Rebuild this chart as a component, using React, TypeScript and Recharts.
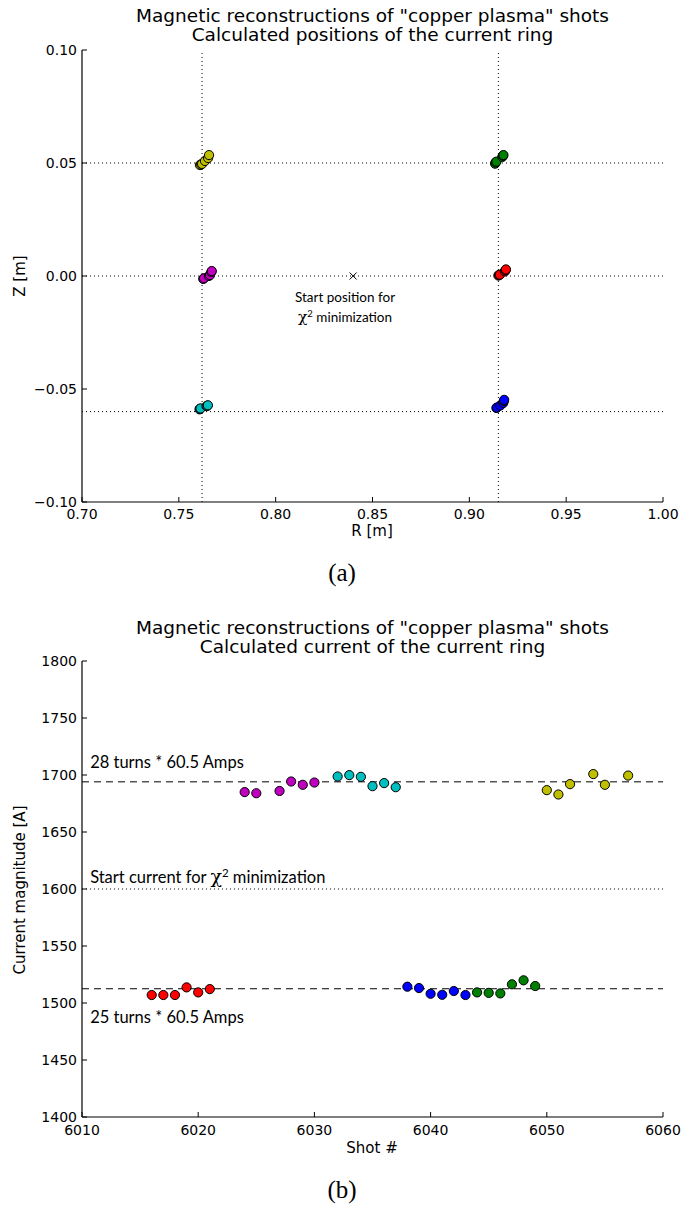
import React from 'react';
import { ScatterChart, Scatter, XAxis, YAxis, ReferenceLine } from 'recharts';

// ---------- Chart (a): positions ----------
const rTicks = [0.7, 0.75, 0.8, 0.85, 0.9, 0.95, 1.0];
const zTicks = [-0.1, -0.05, 0.0, 0.05, 0.1];
const rGuides = [0.762, 0.915];
const zGuides = [0.05, 0.0, -0.06];

const posYellow = [[0.7609, 0.0491], [0.7615, 0.0494], [0.762, 0.0496], [0.7635, 0.0509], [0.7651, 0.0522], [0.7656, 0.0535]];
const posGreen = [[0.9133, 0.0497], [0.9136, 0.0503], [0.914, 0.0506], [0.917, 0.0527], [0.9174, 0.0532], [0.9176, 0.0535]];
const posMagenta = [[0.7626, -0.0013], [0.763, -0.001], [0.7655, 0.0], [0.7661, 0.0004], [0.7668, 0.0018], [0.767, 0.0022]];
const posRed = [[0.915, 0.0002], [0.9153, 0.0004], [0.9158, 0.0006], [0.9183, 0.002], [0.9187, 0.0025], [0.9189, 0.0029]];
const posCyan = [[0.7607, -0.059], [0.7609, -0.0588], [0.7612, -0.0586], [0.7643, -0.0576], [0.7647, -0.0574], [0.765, -0.0572]];
const posBlue = [[0.914, -0.0584], [0.9142, -0.0582], [0.916, -0.0573], [0.9175, -0.0562], [0.9178, -0.0553], [0.918, -0.0548]];
const startPos = [[0.84, 0.0]];
const posNotes = [
  { x: 0.8358, y: -0.0115, label: 'Start position for', chi: false },
  { x: 0.8358, y: -0.0204, label: 'minimization', chi: true },
];

// ---------- Chart (b): currents ----------
const shotTicks = [6010, 6020, 6030, 6040, 6050, 6060];
const curTicks = [1400, 1450, 1500, 1550, 1600, 1650, 1700, 1750, 1800];
const ring28 = 1694; // 28 * 60.5
const ring25 = 1512.5; // 25 * 60.5
const startCurrent = 1600;

const shotsRed = [6016, 6017, 6018, 6019, 6020, 6021];
const curRed = [1507, 1507, 1507, 1513.7, 1509.3, 1512.2];
const shotsMagenta = [6024, 6025, 6027, 6028, 6029, 6030];
const curMagenta = [1685, 1684, 1686, 1694.3, 1691.4, 1693.4];
const shotsCyan = [6032, 6033, 6034, 6035, 6036, 6037];
const curCyan = [1698.7, 1699.9, 1698.4, 1690.2, 1692.9, 1689.3];
const shotsBlue = [6038, 6039, 6040, 6041, 6042, 6043];
const curBlue = [1514.3, 1513.1, 1508.1, 1507.2, 1510.5, 1507];
const shotsGreen = [6044, 6045, 6046, 6047, 6048, 6049];
const curGreen = [1509.3, 1508.9, 1508.4, 1516.4, 1519.9, 1514.9];
const shotsYellow = [6050, 6051, 6052, 6054, 6055, 6057];
const curYellow = [1686.7, 1682.9, 1692, 1700.8, 1691.4, 1699.5];
const curNotes = [
  { x: 6010.7, y: 1705.9, label: '28 turns * 60.5 Amps', post: '' },
  { x: 6010.7, y: 1605.4, label: 'Start current for ', post: 'minimization' },
  { x: 6010.7, y: 1482.4, label: '25 turns * 60.5 Amps', post: '' },
];

const C = {
  r: '#ff0000',
  m: '#bf00bf',
  c: '#00bfbf',
  b: '#0000ff',
  g: '#008000',
  y: '#bfbf00',
};

const pairs = (a: number[][]) => a.map(([x, y]) => ({ x, y }));
const zip = (xs: number[], ys: number[]) => xs.map((x, i) => ({ x, y: ys[i] }));

const sans = '"DejaVu Sans", sans-serif';
const tickFont = { fontFamily: sans, fontSize: 14, fill: '#000' };
const noteFont = 'Lato, "Open Sans", sans-serif';

const dot = (color: string) => (p: any) => (
  <circle cx={p.cx} cy={p.cy} r={4.6} fill={color} stroke="#000" strokeWidth={1} />
);
const cross = (p: any) => (
  <g stroke="#000" strokeWidth={1}>
    <line x1={p.cx - 3.5} y1={p.cy - 3.5} x2={p.cx + 3.5} y2={p.cy + 3.5} />
    <line x1={p.cx - 3.5} y1={p.cy + 3.5} x2={p.cx + 3.5} y2={p.cy - 3.5} />
  </g>
);
const Chi = ({ size }: { size: number }) => (
  <>
    <tspan fontSize={size * 1.15} fontFamily={'"DejaVu Serif", serif'}>χ</tspan>
    <tspan fontSize={size * 0.7} dy={-size * 0.38}>2</tspan>
    <tspan dy={size * 0.38}>{'\u00a0'}</tspan>
  </>
);
const noteA = (p: any) => (
  <text x={p.cx} y={p.cy} textAnchor="middle" fontFamily={noteFont} fontSize={13.5} fill="#000">
    {p.payload.chi ? <Chi size={13.5} /> : null}
    <tspan>{p.payload.label}</tspan>
  </text>
);
const noteB = (p: any) => (
  <text x={p.cx} y={p.cy} textAnchor="start" fontFamily={noteFont} fontSize={16.5} fill="#000">
    <tspan>{p.payload.label}</tspan>
    {p.payload.post ? <Chi size={16.5} /> : null}
    {p.payload.post ? <tspan>{p.payload.post}</tspan> : null}
  </text>
);

const fmt2 = (v: number) => (v < 0 ? '\u2212' : '') + Math.abs(v).toFixed(2);
const fmt0 = (v: number) => String(v);
const blank = () => '';

const axisCommon = {
  type: 'number' as const,
  allowDataOverflow: true,
  interval: 0 as const,
  tickSize: -5,
  axisLine: { stroke: '#000', strokeWidth: 1.2 },
  tickLine: { stroke: '#000', strokeWidth: 1 },
  tick: tickFont,
};

const abs = (left: number, top: number, extra: React.CSSProperties = {}): React.CSSProperties => ({
  position: 'absolute',
  left,
  top,
  ...extra,
});

const titleStyle: React.CSSProperties = {
  width: 581,
  textAlign: 'center',
  fontFamily: sans,
  fontSize: 18.5,
  lineHeight: '19px',
  whiteSpace: 'nowrap',
};
const labelStyle: React.CSSProperties = {
  fontFamily: sans,
  fontSize: 15,
  whiteSpace: 'nowrap',
};
const captionStyle: React.CSSProperties = {
  transform: 'translate(-50%, -50%)',
  fontFamily: '"Liberation Serif", serif',
  fontSize: 25,
  whiteSpace: 'nowrap',
};

export default function App() {
  return (
    <div style={{ position: 'absolute', left: 0, top: 0, width: 684, height: 1205, background: '#fff', overflow: 'hidden' }}>
      {/* ---------- (a) ---------- */}
      <div style={abs(82, 6, titleStyle)}>
        Magnetic reconstructions of "copper plasma" shots
        <br />
        Calculated positions of the current ring
      </div>
      <div style={abs(0, 0)}>
        <ScatterChart width={684} height={560} margin={{ top: 50, right: 21, bottom: 0, left: 0 }}>
          <XAxis {...axisCommon} dataKey="x" domain={[0.7, 1.0]} ticks={rTicks} tickFormatter={fmt2} tickMargin={12} height={58} />
          <XAxis {...axisCommon} xAxisId="top" orientation="top" dataKey="x" domain={[0.7, 1.0]} ticks={rTicks} tickFormatter={blank} height={0} />
          <YAxis {...axisCommon} dataKey="y" domain={[-0.1, 0.1]} ticks={zTicks} tickFormatter={fmt2} tickMargin={10} width={82} />
          <YAxis {...axisCommon} yAxisId="right" orientation="right" dataKey="y" domain={[-0.1, 0.1]} ticks={zTicks} tickFormatter={blank} width={0} />
          {rGuides.map((v) => (
            <ReferenceLine key={'rx' + v} x={v} stroke="#000" strokeDasharray="1 3" strokeWidth={1} />
          ))}
          {zGuides.map((v) => (
            <ReferenceLine key={'zy' + v} y={v} stroke="#000" strokeDasharray="1 3" strokeWidth={1} />
          ))}
          <Scatter data={pairs(posYellow)} shape={dot(C.y)} isAnimationActive={false} />
          <Scatter data={pairs(posGreen)} shape={dot(C.g)} isAnimationActive={false} />
          <Scatter data={pairs(posMagenta)} shape={dot(C.m)} isAnimationActive={false} />
          <Scatter data={pairs(posRed)} shape={dot(C.r)} isAnimationActive={false} />
          <Scatter data={pairs(posCyan)} shape={dot(C.c)} isAnimationActive={false} />
          <Scatter data={pairs(posBlue)} shape={dot(C.b)} isAnimationActive={false} />
          <Scatter data={pairs(startPos)} shape={cross} isAnimationActive={false} />
          <Scatter data={posNotes} shape={noteA} isAnimationActive={false} />
        </ScatterChart>
      </div>
      <div style={abs(372, 531, { transform: 'translate(-50%, -50%)', ...labelStyle })}>R [m]</div>
      <div style={abs(20, 276, { transform: 'translate(-50%, -50%) rotate(-90deg)', ...labelStyle })}>Z [m]</div>
      <div style={abs(342, 573, captionStyle)}>(a)</div>

      {/* ---------- (b) ---------- */}
      <div style={abs(82, 618, titleStyle)}>
        Magnetic reconstructions of "copper plasma" shots
        <br />
        Calculated current of the current ring
      </div>
      <div style={abs(0, 600)}>
        <ScatterChart width={684} height={560} margin={{ top: 61, right: 21, bottom: 0, left: 0 }}>
          <XAxis {...axisCommon} dataKey="x" domain={[6010, 6060]} ticks={shotTicks} tickFormatter={fmt0} tickMargin={13} height={43} />
          <XAxis {...axisCommon} xAxisId="top" orientation="top" dataKey="x" domain={[6010, 6060]} ticks={shotTicks} tickFormatter={blank} height={0} />
          <YAxis {...axisCommon} dataKey="y" domain={[1400, 1800]} ticks={curTicks} tickFormatter={fmt0} tickMargin={10} width={82} />
          <YAxis {...axisCommon} yAxisId="right" orientation="right" dataKey="y" domain={[1400, 1800]} ticks={curTicks} tickFormatter={blank} width={0} />
          <ReferenceLine y={ring28} stroke="#000" strokeDasharray="7 5" strokeWidth={1} />
          <ReferenceLine y={ring25} stroke="#000" strokeDasharray="7 5" strokeWidth={1} />
          <ReferenceLine y={startCurrent} stroke="#000" strokeDasharray="1 3" strokeWidth={1} />
          <Scatter data={zip(shotsRed, curRed)} shape={dot(C.r)} isAnimationActive={false} />
          <Scatter data={zip(shotsMagenta, curMagenta)} shape={dot(C.m)} isAnimationActive={false} />
          <Scatter data={zip(shotsCyan, curCyan)} shape={dot(C.c)} isAnimationActive={false} />
          <Scatter data={zip(shotsBlue, curBlue)} shape={dot(C.b)} isAnimationActive={false} />
          <Scatter data={zip(shotsGreen, curGreen)} shape={dot(C.g)} isAnimationActive={false} />
          <Scatter data={zip(shotsYellow, curYellow)} shape={dot(C.y)} isAnimationActive={false} />
          <Scatter data={curNotes} shape={noteB} isAnimationActive={false} />
        </ScatterChart>
      </div>
      <div style={abs(372, 1148, { transform: 'translate(-50%, -50%)', ...labelStyle })}>Shot #</div>
      <div style={abs(20, 890, { transform: 'translate(-50%, -50%) rotate(-90deg)', ...labelStyle })}>Current magnitude [A]</div>
      <div style={abs(342, 1190, captionStyle)}>(b)</div>
    </div>
  );
}
